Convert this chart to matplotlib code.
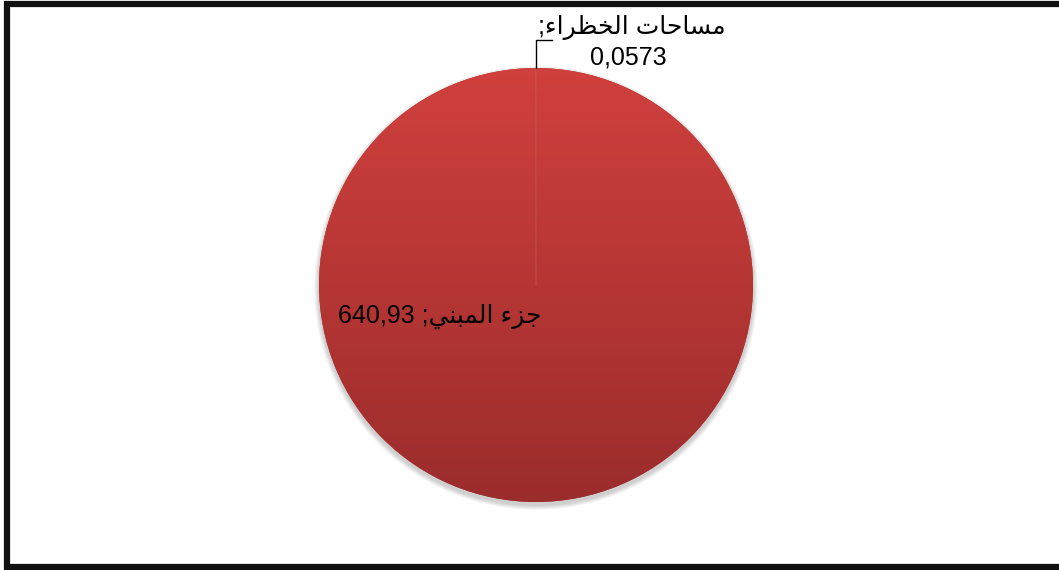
import numpy as np
import matplotlib
matplotlib.use('Agg')
import matplotlib.pyplot as plt
from matplotlib.patches import Circle

#-------data-------
names = ['جزء المبني', 'مساحات الخظراء']
values = [640.93, 0.0573]
value_txt = ['640,93', '0,0573']

#-------arabic shaping (small table, only letters used here)-------
# letter: (isolated, final, initial, medial)
forms = {
    'ا': ('\uFE8D', '\uFE8E', None, None),
    'ء': ('\uFE80', None, None, None),
    'ب': ('\uFE8F', '\uFE90', '\uFE91', '\uFE92'),
    'ت': ('\uFE95', '\uFE96', '\uFE97', '\uFE98'),
    'ج': ('\uFE9D', '\uFE9E', '\uFE9F', '\uFEA0'),
    'ح': ('\uFEA1', '\uFEA2', '\uFEA3', '\uFEA4'),
    'خ': ('\uFEA5', '\uFEA6', '\uFEA7', '\uFEA8'),
    'ر': ('\uFEAD', '\uFEAE', None, None),
    'ز': ('\uFEAF', '\uFEB0', None, None),
    'س': ('\uFEB1', '\uFEB2', '\uFEB3', '\uFEB4'),
    'ظ': ('\uFEC5', '\uFEC6', '\uFEC7', '\uFEC8'),
    'ل': ('\uFEDD', '\uFEDE', '\uFEDF', '\uFEE0'),
    'م': ('\uFEE1', '\uFEE2', '\uFEE3', '\uFEE4'),
    'ن': ('\uFEE5', '\uFEE6', '\uFEE7', '\uFEE8'),
    'ي': ('\uFEF1', '\uFEF2', '\uFEF3', '\uFEF4'),
}

def dual(c):
    return c in forms and forms[c][2] is not None

def joins_back(c):
    return c in forms and forms[c][1] is not None

def rtl(s):
    out = []
    for i, c in enumerate(s):
        if c not in forms:
            out.append(c)
            continue
        prev = s[i-1] if i > 0 else ''
        nxt = s[i+1] if i < len(s)-1 else ''
        jp = dual(prev) and joins_back(c)
        jn = dual(c) and joins_back(nxt)
        f = forms[c]
        if jp and jn:
            out.append(f[3])
        elif jp:
            out.append(f[1])
        elif jn:
            out.append(f[2])
        else:
            out.append(f[0])
    return ''.join(out[::-1])

#-------figure-------
fig = plt.figure(figsize=(10.59, 5.70), dpi=100)
ax = fig.add_axes([0, 0, 1, 1])
cx, cy, r = 536, 285, 217

# soft shadow
for k in range(8):
    ax.add_patch(Circle((cx, cy - 3), r + 5 - k * 0.6, facecolor='#000000',
                        edgecolor='none', alpha=0.025, zorder=1))

wedges, _ = ax.pie(values, startangle=90, counterclock=False,
                   center=(cx, cy), radius=r,
                   colors=['#b83533', '#b83533'],
                   wedgeprops=dict(edgecolor='none', zorder=2))

# vertical gradient clipped to the pie
grad = np.linspace(0, 1, 256).reshape(-1, 1)
top = np.array([208, 64, 61]) / 255.
bot = np.array([155, 44, 44]) / 255.
img = top[None, None, :] * (1 - grad[:, :, None]) + bot[None, None, :] * grad[:, :, None]
clip = Circle((cx, cy), r, transform=ax.transData)
im = ax.imshow(img, extent=(cx - r, cx + r, cy - r, cy + r), origin='upper',
               aspect='auto', zorder=3)
im.set_clip_path(clip)

# slice boundary line
th = np.deg2rad(wedges[1].theta2)
ax.plot([cx, cx + r * np.cos(th)], [cy, cy + r * np.sin(th)],
        color='#cc5a56', lw=0.5, zorder=4)

# leader line for the tiny slice
ax.plot([cx, cx, cx + 16], [cy + r, cy + r + 28, cy + r + 28],
        color='black', lw=1.0, zorder=5)

fam = ['Liberation Sans', 'DejaVu Sans']
ax.text(440, 254, value_txt[0] + ' ;' + rtl(names[0]), ha='center', va='center',
        fontsize=18, family=fam, zorder=6)
ax.text(632, 542, ';' + rtl(names[1]), ha='center', va='center',
        fontsize=18, family=fam, zorder=6)
ax.text(628, 512, value_txt[1], ha='center', va='center',
        fontsize=18, family=fam, zorder=6)

# outer frame (right edge is cut off in the original)
ax.plot([1059, 7, 7, 1059], [566, 566, 3, 3], color='#111111', lw=4.5,
        solid_joinstyle='miter', clip_on=False, zorder=7)

ax.set_xlim(0, 1059)
ax.set_ylim(0, 570)
ax.axis('off')
plt.savefig('out.png', dpi=100)
